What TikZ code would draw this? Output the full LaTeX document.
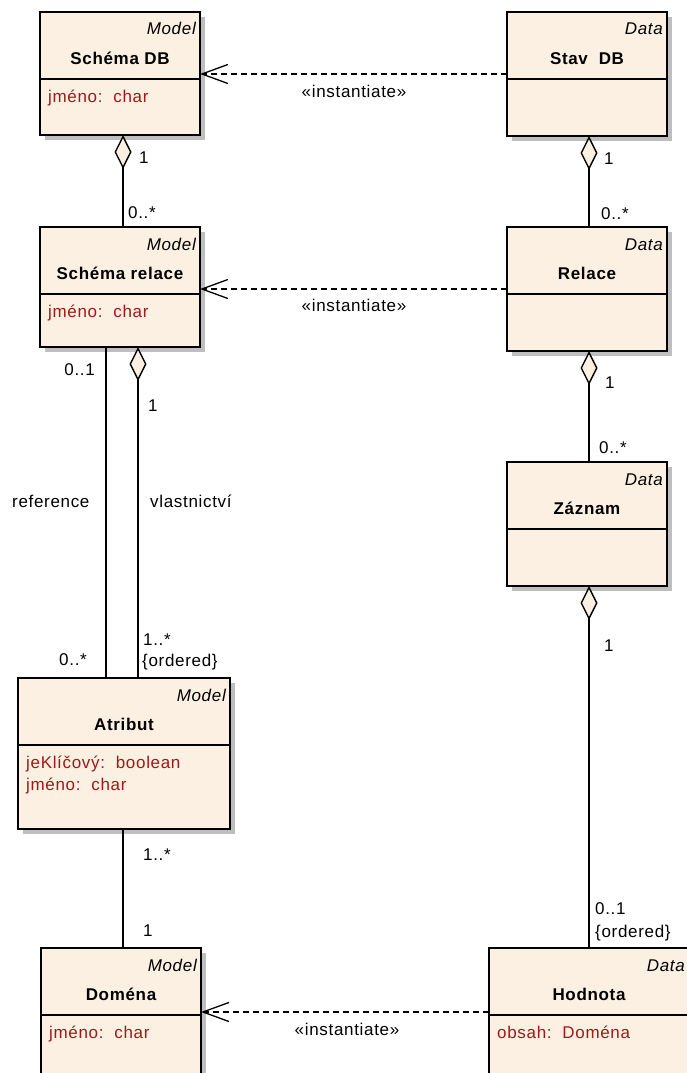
\documentclass[tikz,border=0pt]{standalone}
\usepackage{fontspec}
\setmainfont{Liberation Sans}[LetterSpace=4]
\usetikzlibrary{arrows.meta,shadows,fit,calc}

\definecolor{umlfill}{RGB}{251,240,226}
\definecolor{attrred}{RGB}{160,24,24}
\definecolor{shadowgray}{RGB}{190,190,190}
\newcommand\fs{\fontsize{17}{20}\selectfont}

% one UML class: name, two corners, stereotype, title, first attribute
\newcommand\umlclass[6]{%
  \node[umlbox, fit={#2 #3}] (#1) {};
  \draw[divline] ($(#1.north west)+(0,67)$) -- ($(#1.north east)+(0,67)$);
  \node[clsstereo] (#1-st) at ($(#1.north east)+(-4,23)$) {#4};
  \node[clstitle] (#1-ti) at ($(#1.north)+(0,52)$) {#5};
  \node[clsattr] (#1-at) at ($(#1.north west)+(8,90)$) {#6};
}

\tikzset{
  umlbox/.style={draw=black, line width=1.8pt, fill=umlfill, inner sep=0pt, outer sep=0pt,
    general shadow={fill=shadowgray, shadow xshift=5pt, shadow yshift=-5pt}},
  divline/.style={line width=1.5pt},
  clsstereo/.style={font=\fs\itshape, anchor=base east, inner sep=0pt},
  clstitle/.style={font=\fs\bfseries, anchor=base, inner sep=0pt},
  clsattr/.style={font=\fs, text=attrred, anchor=base west, inner sep=0pt},
  mult/.style={font=\fs, anchor=base west, inner sep=0pt},
  multr/.style={font=\fs, anchor=base east, inner sep=0pt},
  assoc/.style={line width=1.4pt},
  aggr/.style={line width=1.4pt, {Diamond[length=34pt,width=17pt,fill=umlfill]}-},
  dep/.style={line width=1.3pt, dash pattern=on 6pt off 4pt,
    -{Straight Barb[length=26pt,width=19pt]}},
  deplabel/.style={font=\fs, anchor=base, inner sep=0pt},
}

\begin{document}
\begin{tikzpicture}[x=1pt,y=-1pt]
\useasboundingbox (0,0) rectangle (687,1073);

% classes
\umlclass{sdb}{(40,12)}{(200,135)}{Model}{Schéma DB}{jméno:\ \ char}
\umlclass{stav}{(507,12)}{(667,136)}{Data}{Stav\ \ DB}{}
\umlclass{srel}{(40,227)}{(200,347)}{Model}{Schéma relace}{jméno:\ \ char}
\umlclass{rel}{(507,227)}{(667,351)}{Data}{Relace}{}
\umlclass{zaz}{(507,462)}{(667,586)}{Data}{Záznam}{}
\umlclass{atr}{(18,678)}{(230,829)}{Model}{Atribut}{jeKlíčový:\ \ boolean}
\node[clsattr] (atr-at2) at ($(atr.north west)+(8,112)$) {jméno:\ \ char};
\umlclass{dom}{(41,948)}{(201,1076)}{Model}{Doména}{jméno:\ \ char}
\umlclass{hod}{(489,948)}{(689,1076)}{Data}{Hodnota}{obsah:\ \ Doména}

% aggregations
\draw[aggr] ($(sdb.south west)+(83,0)$) -- ($(srel.north west)+(83,0)$);
\draw[aggr] ($(stav.south west)+(82,0)$) -- ($(rel.north west)+(82,0)$);
\draw[aggr] ($(rel.south west)+(82,0)$) -- ($(zaz.north west)+(82,0)$);
\draw[aggr] ($(zaz.south west)+(82,0)$) -- ($(hod.north west)+(100,0)$);
\draw[aggr] ($(srel.south west)+(98,0)$) -- ($(atr.north west)+(120,0)$);

% plain associations
\draw[assoc] ($(srel.south west)+(66,0)$) -- ($(atr.north west)+(88,0)$);
\draw[assoc] ($(atr.south west)+(105,0)$) -- ($(dom.north west)+(82,0)$);

% instantiation dependencies
\draw[dep] (stav.west) -- (stav.west -| sdb.east);
\draw[dep] (rel.west) -- (rel.west -| srel.east);
\draw[dep] (hod.west) -- (hod.west -| dom.east);
\node[deplabel] (inst1) at (354,97) {«instantiate»};
\node[deplabel] (inst2) at (354,311) {«instantiate»};
\node[deplabel] (inst3) at (347,1035) {«instantiate»};

% multiplicities and role names
\node[mult] (m1) at (139,163) {1};
\node[mult] (m2) at (128,218) {0..*};
\node[mult] (m3) at (604,164) {1};
\node[mult] (m4) at (601,219) {0..*};
\node[mult] (m5) at (605,388) {1};
\node[mult] (m6) at (599,453) {0..*};
\node[mult] (m7) at (604,651) {1};
\node[mult] (m8) at (595,914) {0..1};
\node[mult] (m9) at (595,937) {\{ordered\}};
\node[multr] (m10) at (95,375) {0..1};
\node[multr] (m11) at (87,665) {0..*};
\node[mult] (m12) at (148,411) {1};
\node[mult] (m13) at (143,645) {1..*};
\node[mult] (m14) at (142,666) {\{ordered\}};
\node[mult] (m15) at (143,860) {1..*};
\node[mult] (m16) at (143,936) {1};
\node[mult] (role1) at (12,507) {reference};
\node[mult] (role2) at (150,507) {vlastnictví};
\end{tikzpicture}
\end{document}
